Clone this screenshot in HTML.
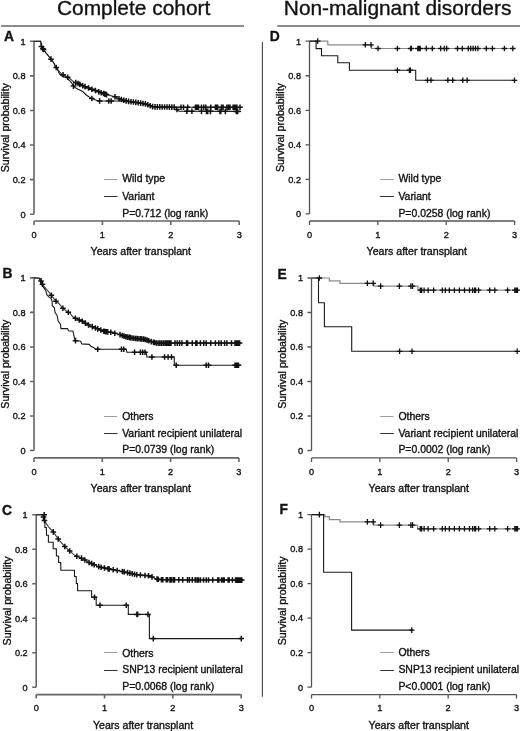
<!DOCTYPE html>
<html><head><meta charset="utf-8"><style>
html,body{margin:0;padding:0;background:#fff;}
body{width:520px;height:731px;overflow:hidden;}
svg{display:block;}
svg text{font-family:"Liberation Sans", sans-serif;stroke:#111;stroke-width:0.35px;paint-order:stroke;}
svg{will-change:transform;}
</style></head><body>
<svg width="520" height="731" viewBox="0 0 520 731">
<rect width="520" height="731" fill="#fff"/>
<text x="57" y="14.9" font-size="20.9" fill="#111">Complete cohort</text>
<text x="283.8" y="14.9" font-size="20.9" fill="#111">Non-malignant disorders</text>
<line x1="1" y1="26" x2="244" y2="26" stroke="#666" stroke-width="1.3"/>
<line x1="277.3" y1="26" x2="520" y2="26" stroke="#666" stroke-width="1.3"/>
<line x1="262.4" y1="42" x2="262.4" y2="696.8" stroke="#444" stroke-width="1.1"/>
<path fill="none" stroke="#666" stroke-width="1.6" d="M34 41.3V214.2
M30 41.3H34M30 75.88H34M30 110.46H34M30 145.04H34M30 179.62H34M30 214.2H34"/>
<path fill="none" stroke="#666" stroke-width="1.6" d="M34 221H239.2M34 221V225M102.4 221V225M170.8 221V225M239.2 221V225"/>
<text x="25.5" y="44.6" font-size="9.2" text-anchor="end" font-weight="normal" fill="#111">1</text>
<text x="25.5" y="79.18" font-size="9.2" text-anchor="end" font-weight="normal" fill="#111">0.8</text>
<text x="25.5" y="113.76" font-size="9.2" text-anchor="end" font-weight="normal" fill="#111">0.6</text>
<text x="25.5" y="148.34" font-size="9.2" text-anchor="end" font-weight="normal" fill="#111">0.4</text>
<text x="25.5" y="182.92" font-size="9.2" text-anchor="end" font-weight="normal" fill="#111">0.2</text>
<text x="25.5" y="217.5" font-size="9.2" text-anchor="end" font-weight="normal" fill="#111">0</text>
<text x="34" y="237.8" font-size="9.2" text-anchor="middle" font-weight="normal" fill="#111">0</text>
<text x="102.4" y="237.8" font-size="9.2" text-anchor="middle" font-weight="normal" fill="#111">1</text>
<text x="170.8" y="237.8" font-size="9.2" text-anchor="middle" font-weight="normal" fill="#111">2</text>
<text x="239.2" y="237.8" font-size="9.2" text-anchor="middle" font-weight="normal" fill="#111">3</text>
<text x="0" y="0" font-size="10.6" text-anchor="middle" fill="#111" transform="translate(8.5 127.75) rotate(-90)">Survival probability</text>
<text x="90.6" y="255.2" font-size="10.6" text-anchor="start" font-weight="normal" fill="#111">Years after transplant</text>
<text x="4" y="40.7" font-size="13.8" text-anchor="start" font-weight="bold" fill="#111">A</text>
<line x1="104" y1="179.5" x2="117.2" y2="179.5" stroke="#9c9c9c" stroke-width="1"/>
<line x1="104" y1="196.5" x2="117.6" y2="196.5" stroke="#333" stroke-width="1"/>
<text x="122.2" y="182.4" font-size="10.45" text-anchor="start" font-weight="normal" fill="#111">Wild type</text>
<text x="122.2" y="199.9" font-size="10.45" text-anchor="start" font-weight="normal" fill="#111">Variant</text>
<text x="122.2" y="216.7" font-size="10.45" text-anchor="start" font-weight="normal" fill="#111">P=0.712 (log rank)</text>
<polyline fill="none" stroke="#3a3a3a" stroke-width="1.1" stroke-linejoin="miter" points="33.8,41.3 40.6,41.3 41.2,44 41.3,46 42.5,48.4 44,50 46,53 48.5,56 50.5,58.5 52,60.5 54,63.2 55.2,66.2 57,68.5 59.6,71.9 61.9,74.2 66.5,76.5 70,78.8 73.5,81.7 78.1,83.5 82.7,85.8 87.3,87.5 91.9,89.2 96.5,91 101.2,92.7 105.8,94.4 110.4,95.6 115,96.7 120,99.2 128,101.3 140,103 146,104 150,105.6 153,106.8 176,107.2 241,107.3"/>
<polyline fill="none" stroke="#1a1a1a" stroke-width="1.1" stroke-linejoin="miter" points="33.8,41.3 40.6,41.3 41.2,44 41.3,46 42.5,48.4 44,50 46,53 48.5,56 50.5,58.5 52,60.5 54,63.2 55.2,66.2 57,68.5 59.6,74.2 61.9,76 66.5,77.7 71.2,82.3 74,86.9 78.1,89.2 82.7,91.5 86.2,95 89.6,97.3 94.2,99.6 97.7,100.8 101.2,101 118,101 128,101.5 140,103.1 146,104.1 150,105.8 153,107 176,107.4 177,109.6 179,111.3 241,111.4"/>
<path fill="none" stroke="#111" stroke-width="1.5" d="M41.5 43.6V49.2M38.7 46.4H44.3M42.9 46.03V51.63M40.1 48.83H45.7M43.5 46.67V52.27M40.7 49.47H46.3M51 56.37V61.97M48.2 59.17H53.8M56.2 64.68V70.28M53.4 67.48H59M63.1 72V77.6M60.3 74.8H65.9M67.7 74.49V80.09M64.9 77.29H70.5M75.8 79.8V85.4M73 82.6H78.6M78.1 80.7V86.3M75.3 83.5H80.9M79.8 81.55V87.15M77 84.35H82.6M82.7 83V88.6M79.9 85.8H85.5M85 83.85V89.45M82.2 86.65H87.8M88.5 85.14V90.74M85.7 87.94H91.3M91.9 86.4V92M89.1 89.2H94.7M95.4 87.77V93.37M92.6 90.57H98.2M98.8 89.03V94.63M96 91.83H101.6M101.2 89.9V95.5M98.4 92.7H104M103.5 90.75V96.35M100.7 93.55H106.3M105 91.3V96.9M102.2 94.1H107.8M106.5 91.78V97.38M103.7 94.58H109.3M115 93.9V99.5M112.2 96.7H117.8M119 95.9V101.5M116.2 98.7H121.8M121.4 96.77V102.37M118.6 99.57H124.2M123.8 97.4V103M121 100.2H126.6M126.2 98.03V103.63M123.4 100.83H129M128.6 98.58V104.18M125.8 101.38H131.4M131 98.92V104.52M128.2 101.72H133.8M133.4 99.27V104.86M130.6 102.06H136.2M135.8 99.61V105.2M133 102.41H138.6M138.2 99.95V105.55M135.4 102.75H141M140.6 100.3V105.9M137.8 103.1H143.4M143 100.7V106.3M140.2 103.5H145.8M145.4 101.1V106.7M142.6 103.9H148.2M147.8 101.92V107.52M145 104.72H150.6M150.2 102.88V108.48M147.4 105.68H153M152.6 103.84V109.44M149.8 106.64H155.4M155 104.03V109.63M152.2 106.83H157.8M157.4 104.08V109.68M154.6 106.88H160.2M159.8 104.12V109.72M157 106.92H162.6M162.2 104.16V109.76M159.4 106.96H165M164.6 104.2V109.8M161.8 107H167.4M167 104.24V109.84M164.2 107.04H169.8M169.4 104.29V109.89M166.6 107.09H172.2M171.8 104.33V109.93M169 107.13H174.6M174.2 104.37V109.97M171.4 107.17H177M181 104.41V110.01M178.2 107.21H183.8M183.5 104.41V110.01M180.7 107.21H186.3M187.7 104.42V110.02M184.9 107.22H190.5M195.4 104.43V110.03M192.6 107.23H198.2M196.4 104.43V110.03M193.6 107.23H199.2M197.4 104.43V110.03M194.6 107.23H200.2M198.5 104.43V110.03M195.7 107.23H201.3M201.5 104.44V110.04M198.7 107.24H204.3M203.8 104.44V110.04M201 107.24H206.6M205.8 104.45V110.05M203 107.25H208.6M210.8 104.45V110.05M208 107.25H213.6M215.4 104.46V110.06M212.6 107.26H218.2M216.5 104.46V110.06M213.7 107.26H219.3M217.7 104.46V110.06M214.9 107.26H220.5M221.5 104.47V110.07M218.7 107.27H224.3M223.1 104.47V110.07M220.3 107.27H225.9M226.9 104.48V110.08M224.1 107.28H229.7M228.5 104.48V110.08M225.7 107.28H231.3M230 104.48V110.08M227.2 107.28H232.8M233.1 104.49V110.09M230.3 107.29H235.9M234.2 104.49V110.09M231.4 107.29H237M235.4 104.49V110.09M232.6 107.29H238.2M236.9 104.49V110.09M234.1 107.29H239.7M240 104.5V110.1M237.2 107.3H242.8"/>
<path fill="none" stroke="#111" stroke-width="1.5" d="M73.5 83.28V88.88M70.7 86.08H76.3M91.9 95.65V101.25M89.1 98.45H94.7M99.6 98.11V103.71M96.8 100.91H102.4M108.8 98.2V103.8M106 101H111.6M111.2 98.2V103.8M108.4 101H114M176.9 106.58V112.18M174.1 109.38H179.7M186.9 108.51V114.11M184.1 111.31H189.7M191.9 108.52V114.12M189.1 111.32H194.7M201.5 108.54V114.14M198.7 111.34H204.3M206.5 108.54V114.14M203.7 111.34H209.3M207.7 108.55V114.15M204.9 111.35H210.5M210.4 108.55V114.15M207.6 111.35H213.2M220 108.57V114.17M217.2 111.37H222.8M220.8 108.57V114.17M218 111.37H223.6M225.4 108.57V114.17M222.6 111.37H228.2M236.2 108.59V114.19M233.4 111.39H239M237.7 108.59V114.19M234.9 111.39H240.5"/>
<path fill="none" stroke="#666" stroke-width="1.6" d="M34 277.9V450.5
M30 277.9H34M30 312.42H34M30 346.94H34M30 381.46H34M30 415.98H34M30 450.5H34"/>
<path fill="none" stroke="#666" stroke-width="1.6" d="M34 457.9H238.9M34 457.9V461.9M102.3 457.9V461.9M170.6 457.9V461.9M238.9 457.9V461.9"/>
<text x="25.5" y="281.2" font-size="9.2" text-anchor="end" font-weight="normal" fill="#111">1</text>
<text x="25.5" y="315.72" font-size="9.2" text-anchor="end" font-weight="normal" fill="#111">0.8</text>
<text x="25.5" y="350.24" font-size="9.2" text-anchor="end" font-weight="normal" fill="#111">0.6</text>
<text x="25.5" y="384.76" font-size="9.2" text-anchor="end" font-weight="normal" fill="#111">0.4</text>
<text x="25.5" y="419.28" font-size="9.2" text-anchor="end" font-weight="normal" fill="#111">0.2</text>
<text x="25.5" y="453.8" font-size="9.2" text-anchor="end" font-weight="normal" fill="#111">0</text>
<text x="34" y="474.7" font-size="9.2" text-anchor="middle" font-weight="normal" fill="#111">0</text>
<text x="102.3" y="474.7" font-size="9.2" text-anchor="middle" font-weight="normal" fill="#111">1</text>
<text x="170.6" y="474.7" font-size="9.2" text-anchor="middle" font-weight="normal" fill="#111">2</text>
<text x="238.9" y="474.7" font-size="9.2" text-anchor="middle" font-weight="normal" fill="#111">3</text>
<text x="0" y="0" font-size="10.6" text-anchor="middle" fill="#111" transform="translate(8.5 364.2) rotate(-90)">Survival probability</text>
<text x="90.6" y="492.1" font-size="10.6" text-anchor="start" font-weight="normal" fill="#111">Years after transplant</text>
<text x="2.6" y="278.3" font-size="13.8" text-anchor="start" font-weight="bold" fill="#111">B</text>
<line x1="104" y1="416.5" x2="117.2" y2="416.5" stroke="#9c9c9c" stroke-width="1"/>
<line x1="104" y1="433.5" x2="117.6" y2="433.5" stroke="#333" stroke-width="1"/>
<text x="122.2" y="419.7" font-size="10.45" text-anchor="start" font-weight="normal" fill="#111">Others</text>
<text x="122.2" y="436.5" font-size="10.45" text-anchor="start" font-weight="normal" fill="#111">Variant recipient unilateral</text>
<text x="122.2" y="453.3" font-size="10.45" text-anchor="start" font-weight="normal" fill="#111">P=0.0739 (log rank)</text>
<polyline fill="none" stroke="#3a3a3a" stroke-width="1.1" stroke-linejoin="miter" points="33.8,277.8 39.8,278.2 42.9,285.2 46.8,289.5 51.4,295.2 55.2,300.6 59.1,303.7 62.9,308.3 66.8,311.4 70,313.2 72.5,316.5 76.3,318.8 81.8,321 89.2,325.4 98.5,329.2 104.6,331.5 110.8,332.3 120,334.6 126.2,336.9 135.4,338.5 144.6,339.2 150.8,341.5 156.9,343.1 240.8,343.1"/>
<polyline fill="none" stroke="#1a1a1a" stroke-width="1.1" stroke-linejoin="miter" points="33.8,277.8 39.1,278.3 42.4,285.9 45.7,290.3 46.8,294.7 48.9,296.9 51.1,298.5 52.2,301.3 52.2,305.6 54.4,307.8 55,312.2 57.1,315.5 58.2,321 60.4,324.2 61,328.6 67.5,328.6 68.6,330.8 73,331.3 74.1,336.3 75.2,340.6 80.7,341.2 81.8,343.9 89.2,344.4 90.8,346.2 93.8,347.7 95.4,349.2 126.2,349.2 126.9,352.3 146.2,352.3 146.9,357 174.3,357 174.3,365.2 240.8,365.2"/>
<path fill="none" stroke="#111" stroke-width="1.5" d="M41 278.11V283.71M38.2 280.91H43.8M42.5 281.5V287.1M39.7 284.3H45.3M51.4 292.4V298M48.6 295.2H54.2M56 298.44V304.04M53.2 301.24H58.8M62.9 305.5V311.1M60.1 308.3H65.7M68.3 309.44V315.04M65.5 312.24H71.1M75.4 315.46V321.06M72.6 318.26H78.2M79.2 317.16V322.76M76.4 319.96H82M82.3 318.5V324.1M79.5 321.3H85.1M85.4 320.34V325.94M82.6 323.14H88.2M88.5 322.18V327.78M85.7 324.98H91.3M92.3 323.87V329.47M89.5 326.67H95.1M95.4 325.13V330.73M92.6 327.93H98.2M97.7 326.07V331.67M94.9 328.87H100.5M100.8 327.27V332.87M98 330.07H103.6M103.8 328.4V334M101 331.2H106.6M105 328.75V334.35M102.2 331.55H107.8M106.2 328.91V334.51M103.4 331.71H109M107.7 329.1V334.7M104.9 331.9H110.5M110.8 329.5V335.1M108 332.3H113.6M114.8 330.5V336.1M112 333.3H117.6M120 331.8V337.4M117.2 334.6H122.8M122.3 332.65V338.25M119.5 335.45H125.1M124 333.28V338.88M121.2 336.08H126.8M125.8 333.95V339.55M123 336.75H128.6M127.5 334.33V339.93M124.7 337.13H130.3M129.2 334.62V340.22M126.4 337.42H132M130.4 334.83V340.43M127.6 337.63H133.2M132.1 335.13V340.73M129.3 337.93H134.9M133.8 335.42V341.02M131 338.22H136.6M135.6 335.72V341.32M132.8 338.52H138.4M137.3 335.84V341.44M134.5 338.64H140.1M139 335.97V341.57M136.2 338.77H141.8M140.8 336.11V341.71M138 338.91H143.6M141.9 336.19V341.79M139.1 338.99H144.7M143.7 336.33V341.93M140.9 339.13H146.5M145.4 336.7V342.3M142.6 339.5H148.2M147.1 337.33V342.93M144.3 340.13H149.9M148.8 337.96V343.56M146 340.76H151.6M151.2 338.8V344.4M148.4 341.6H154M153.5 339.41V345.01M150.7 342.21H156.3M154.6 339.7V345.3M151.8 342.5H157.4M156.3 340.14V345.74M153.5 342.94H159.1M158.1 340.3V345.9M155.3 343.1H160.9M159.8 340.3V345.9M157 343.1H162.6M161.5 340.3V345.9M158.7 343.1H164.3M163.3 340.3V345.9M160.5 343.1H166.1M165 340.3V345.9M162.2 343.1H167.8M166.5 340.3V345.9M163.7 343.1H169.3M168 340.3V345.9M165.2 343.1H170.8M169.5 340.3V345.9M166.7 343.1H172.3M171 340.3V345.9M168.2 343.1H173.8M175 340.3V345.9M172.2 343.1H177.8M177.3 340.3V345.9M174.5 343.1H180.1M179.6 340.3V345.9M176.8 343.1H182.4M181.9 340.3V345.9M179.1 343.1H184.7M186.5 340.3V345.9M183.7 343.1H189.3M187.7 340.3V345.9M184.9 343.1H190.5M192.3 340.3V345.9M189.5 343.1H195.1M195.8 340.3V345.9M193 343.1H198.6M196.9 340.3V345.9M194.1 343.1H199.7M200.4 340.3V345.9M197.6 343.1H203.2M203.8 340.3V345.9M201 343.1H206.6M206.2 340.3V345.9M203.4 343.1H209M210.8 340.3V345.9M208 343.1H213.6M215.4 340.3V345.9M212.6 343.1H218.2M218.8 340.3V345.9M216 343.1H221.6M221.2 340.3V345.9M218.4 343.1H224M224.6 340.3V345.9M221.8 343.1H227.4M226.9 340.3V345.9M224.1 343.1H229.7M231.5 340.3V345.9M228.7 343.1H234.3M235 340.3V345.9M232.2 343.1H237.8M236.2 340.3V345.9M233.4 343.1H239M237.4 340.3V345.9M234.6 343.1H240.2M238.5 340.3V345.9M235.7 343.1H241.3M239.6 340.3V345.9M236.8 343.1H242.4"/>
<path fill="none" stroke="#111" stroke-width="1.5" d="M75.5 337.83V343.43M72.7 340.63H78.3M97.7 346.4V352M94.9 349.2H100.5M121.5 346.4V352M118.7 349.2H124.3M123.8 346.4V352M121 349.2H126.6M134.6 349.5V355.1M131.8 352.3H137.4M140.4 349.5V355.1M137.6 352.3H143.2M142.7 349.5V355.1M139.9 352.3H145.5M145 349.5V355.1M142.2 352.3H147.8M151.9 354.2V359.8M149.1 357H154.7M164.6 354.2V359.8M161.8 357H167.4M168.1 354.2V359.8M165.3 357H170.9M171.5 354.2V359.8M168.7 357H174.3M176.2 362.4V368M173.4 365.2H179M206.2 362.4V368M203.4 365.2H209M208.5 362.4V368M205.7 365.2H211.3M235 362.4V368M232.2 365.2H237.8M236.2 362.4V368M233.4 365.2H239M237.4 362.4V368M234.6 365.2H240.2M238.5 362.4V368M235.7 365.2H241.3"/>
<path fill="none" stroke="#666" stroke-width="1.6" d="M36.2 514.7V687.2
M32.2 514.7H36.2M32.2 549.2H36.2M32.2 583.7H36.2M32.2 618.2H36.2M32.2 652.7H36.2M32.2 687.2H36.2"/>
<path fill="none" stroke="#666" stroke-width="1.6" d="M36.2 694.6H241.2M36.2 694.6V698.6M104.53 694.6V698.6M172.87 694.6V698.6M241.2 694.6V698.6"/>
<text x="27.7" y="518" font-size="9.2" text-anchor="end" font-weight="normal" fill="#111">1</text>
<text x="27.7" y="552.5" font-size="9.2" text-anchor="end" font-weight="normal" fill="#111">0.8</text>
<text x="27.7" y="587" font-size="9.2" text-anchor="end" font-weight="normal" fill="#111">0.6</text>
<text x="27.7" y="621.5" font-size="9.2" text-anchor="end" font-weight="normal" fill="#111">0.4</text>
<text x="27.7" y="656" font-size="9.2" text-anchor="end" font-weight="normal" fill="#111">0.2</text>
<text x="27.7" y="690.5" font-size="9.2" text-anchor="end" font-weight="normal" fill="#111">0</text>
<text x="36.2" y="711.4" font-size="9.2" text-anchor="middle" font-weight="normal" fill="#111">0</text>
<text x="104.53" y="711.4" font-size="9.2" text-anchor="middle" font-weight="normal" fill="#111">1</text>
<text x="172.87" y="711.4" font-size="9.2" text-anchor="middle" font-weight="normal" fill="#111">2</text>
<text x="241.2" y="711.4" font-size="9.2" text-anchor="middle" font-weight="normal" fill="#111">3</text>
<text x="0" y="0" font-size="10.6" text-anchor="middle" fill="#111" transform="translate(10.7 600.95) rotate(-90)">Survival probability</text>
<text x="92.9" y="728.8" font-size="10.6" text-anchor="start" font-weight="normal" fill="#111">Years after transplant</text>
<text x="2.1" y="515.2" font-size="13.8" text-anchor="start" font-weight="bold" fill="#111">C</text>
<line x1="104" y1="652.5" x2="117.2" y2="652.5" stroke="#9c9c9c" stroke-width="1"/>
<line x1="104" y1="670.5" x2="117.6" y2="670.5" stroke="#333" stroke-width="1"/>
<text x="122.2" y="656.5" font-size="10.45" text-anchor="start" font-weight="normal" fill="#111">Others</text>
<text x="122.2" y="673.3" font-size="10.45" text-anchor="start" font-weight="normal" fill="#111">SNP13 recipient unilateral</text>
<text x="122.2" y="690.1" font-size="10.45" text-anchor="start" font-weight="normal" fill="#111">P=0.0068 (log rank)</text>
<polyline fill="none" stroke="#3a3a3a" stroke-width="1.1" stroke-linejoin="miter" points="36.2,514.8 42.9,514.8 44.6,520.9 48.9,527.5 53.3,531.9 58.2,539 61.5,542.8 65.4,547.2 69.7,551 74.1,554.9 78.5,557 82.9,558.7 88,562 98.5,566.6 110,569.2 121.5,571.3 129.2,573 136.9,574.8 144.6,575.4 150,575.9 155.8,578.8 161.5,579.8 243.5,580.1"/>
<polyline fill="none" stroke="#1a1a1a" stroke-width="1.1" stroke-linejoin="miter" points="36.2,514.8 44.6,514.8 44.6,520.9 44.9,520.9 44.9,527.5 46.3,527.5 46.3,529.2 46.5,529.2 46.5,535.3 48.4,535.3 48.4,535.7 48.4,535.7 48.4,542.3 52.8,542.3 52.8,542.3 53.2,542.3 53.2,548.8 56.1,548.8 56.1,549.4 56.4,549.4 56.4,556 58.2,556 58.2,556.5 58.6,556.5 58.6,562.5 60.4,562.5 60.4,563.1 60.8,563.1 60.8,570.2 74.5,570.2 74.5,576.5 76.2,576.5 76.2,577.3 76.3,577.3 76.3,583.5 77.5,583.5 77.5,584.2 77.6,584.2 77.6,590.8 91.6,590.8 91.6,597.3 96.2,597.3 96.2,605.2 128.3,605.2 128.3,614.4 149.4,614.4 149.4,638.6 241.8,638.6"/>
<path fill="none" stroke="#111" stroke-width="1.5" d="M43.5 514.15V519.75M40.7 516.95H46.3M44.5 517.74V523.34M41.7 520.54H47.3M53.3 529.1V534.7M50.5 531.9H56.1M58.2 536.2V541.8M55.4 539H61M64.8 543.72V549.32M62 546.52H67.6M69.7 548.2V553.8M66.9 551H72.5M76.8 553.39V558.99M74 556.19H79.6M81.5 555.36V560.96M78.7 558.16H84.3M84.9 557.19V562.79M82.1 559.99H87.7M89 559.64V565.24M86.2 562.44H91.8M91.8 560.86V566.46M89 563.66H94.6M94.2 561.92V567.52M91.4 564.72H97M98.8 563.87V569.47M96 566.67H101.6M101.1 564.39V569.99M98.3 567.19H103.9M104.5 565.16V570.76M101.7 567.96H107.3M108 565.95V571.55M105.2 568.75H110.8M109.2 566.22V571.82M106.4 569.02H112M113.2 566.98V572.58M110.4 569.78H116M117.2 567.71V573.31M114.4 570.51H120M122.4 568.7V574.3M119.6 571.5H125.2M124.2 569.1V574.7M121.4 571.9H127M127.6 569.85V575.45M124.8 572.65H130.4M129.9 570.36V575.96M127.1 573.16H132.7M132.2 570.9V576.5M129.4 573.7H135M134.5 571.44V577.04M131.7 574.24H137.3M136.8 571.98V577.58M134 574.78H139.6M140.4 572.27V577.87M137.6 575.07H143.2M145 572.64V578.24M142.2 575.44H147.8M148.5 572.96V578.56M145.7 575.76H151.3M152 574.1V579.7M149.2 576.9H154.8M157 576.21V581.81M154.2 579.01H159.8M158.3 576.44V582.04M155.5 579.24H161.1M161.5 577V582.6M158.7 579.8H164.3M162.8 577V582.6M160 579.8H165.6M166.3 577.02V582.62M163.5 579.82H169.1M167.6 577.02V582.62M164.8 579.82H170.4M170 577.03V582.63M167.2 579.83H172.8M171.2 577.04V582.64M168.4 579.84H174M173.2 577.04V582.64M170.4 579.84H176M174.5 577.05V582.65M171.7 579.85H177.3M178.8 577.06V582.66M176 579.86H181.6M182.7 577.08V582.68M179.9 579.88H185.5M187.5 577.1V582.7M184.7 579.9H190.3M189.4 577.1V582.7M186.6 579.9H192.2M192.3 577.11V582.71M189.5 579.91H195.1M195.2 577.12V582.72M192.4 579.92H198M197 577.13V582.73M194.2 579.93H199.8M198.5 577.14V582.74M195.7 579.94H201.3M200.4 577.14V582.74M197.6 579.94H203.2M203.5 577.15V582.75M200.7 579.95H206.3M206.2 577.16V582.76M203.4 579.96H209M208.5 577.17V582.77M205.7 579.97H211.3M212.7 577.19V582.79M209.9 579.99H215.5M217.7 577.21V582.81M214.9 580.01H220.5M218.8 577.21V582.81M216 580.01H221.6M221.5 577.22V582.82M218.7 580.02H224.3M223.1 577.23V582.83M220.3 580.03H225.9M224.2 577.23V582.83M221.4 580.03H227M228.1 577.24V582.84M225.3 580.04H230.9M229.2 577.25V582.85M226.4 580.05H232M232.4 577.26V582.86M229.6 580.06H235.2M235.5 577.27V582.87M232.7 580.07H238.3M236.8 577.28V582.88M234 580.08H239.6M238.1 577.28V582.88M235.3 580.08H240.9M239.4 577.29V582.88M236.6 580.09H242.2M240.7 577.29V582.89M237.9 580.09H243.5M241.8 577.29V582.89M239 580.09H244.6"/>
<path fill="none" stroke="#111" stroke-width="1.5" d="M44.2 512V517.6M41.4 514.8H47M94.5 594.5V600.1M91.7 597.3H97.3M100 602.4V608M97.2 605.2H102.8M126.3 602.4V608M123.5 605.2H129.1M136.9 611.6V617.2M134.1 614.4H139.7M137.6 611.6V617.2M134.8 614.4H140.4M148 611.6V617.2M145.2 614.4H150.8M153.3 635.8V641.4M150.5 638.6H156.1M241.3 635.8V641.4M238.5 638.6H244.1"/>
<path fill="none" stroke="#555" stroke-width="1.3" d="M309.5 41.2V213.9
M305.5 41.2H309.5M305.5 75.74H309.5M305.5 110.28H309.5M305.5 144.82H309.5M305.5 179.36H309.5M305.5 213.9H309.5"/>
<path fill="none" stroke="#555" stroke-width="1.3" d="M309.5 221H514.6M309.5 221V225M377.87 221V225M446.23 221V225M514.6 221V225"/>
<text x="301" y="44.5" font-size="9.2" text-anchor="end" font-weight="normal" fill="#111">1</text>
<text x="301" y="79.04" font-size="9.2" text-anchor="end" font-weight="normal" fill="#111">0.8</text>
<text x="301" y="113.58" font-size="9.2" text-anchor="end" font-weight="normal" fill="#111">0.6</text>
<text x="301" y="148.12" font-size="9.2" text-anchor="end" font-weight="normal" fill="#111">0.4</text>
<text x="301" y="182.66" font-size="9.2" text-anchor="end" font-weight="normal" fill="#111">0.2</text>
<text x="301" y="217.2" font-size="9.2" text-anchor="end" font-weight="normal" fill="#111">0</text>
<text x="309.5" y="237.8" font-size="9.2" text-anchor="middle" font-weight="normal" fill="#111">0</text>
<text x="377.87" y="237.8" font-size="9.2" text-anchor="middle" font-weight="normal" fill="#111">1</text>
<text x="446.23" y="237.8" font-size="9.2" text-anchor="middle" font-weight="normal" fill="#111">2</text>
<text x="514.6" y="237.8" font-size="9.2" text-anchor="middle" font-weight="normal" fill="#111">3</text>
<text x="0" y="0" font-size="10.6" text-anchor="middle" fill="#111" transform="translate(284 127.55) rotate(-90)">Survival probability</text>
<text x="366.6" y="255.2" font-size="10.6" text-anchor="start" font-weight="normal" fill="#111">Years after transplant</text>
<text x="269.8" y="41.2" font-size="13.8" text-anchor="start" font-weight="bold" fill="#111">D</text>
<line x1="380.2" y1="179.5" x2="393.4" y2="179.5" stroke="#9c9c9c" stroke-width="1"/>
<line x1="380.2" y1="196.5" x2="393.8" y2="196.5" stroke="#333" stroke-width="1"/>
<text x="398.4" y="182.3" font-size="10.45" text-anchor="start" font-weight="normal" fill="#111">Wild type</text>
<text x="398.4" y="199.8" font-size="10.45" text-anchor="start" font-weight="normal" fill="#111">Variant</text>
<text x="398.4" y="216.6" font-size="10.45" text-anchor="start" font-weight="normal" fill="#111">P=0.0258 (log rank)</text>
<polyline fill="none" stroke="#8a8a8a" stroke-width="1.2" stroke-linejoin="miter" points="309.5,41.1 327.8,41.1 327.8,44.8 371.6,44.8 371.6,48.5 514.2,48.5"/>
<polyline fill="none" stroke="#1a1a1a" stroke-width="1.1" stroke-linejoin="miter" points="309.5,41.1 316.1,41.1 316.1,48.6 321.5,48.6 321.5,55.8 337.8,55.8 337.8,62.8 349.4,62.8 349.4,70.2 415.7,70.2 415.7,80.3 514.2,80.3"/>
<path fill="none" stroke="#111" stroke-width="1.3" d="M317.7 38.3V43.9M314.9 41.1H320.5M365.3 42V47.6M362.5 44.8H368.1M371 42V47.6M368.2 44.8H373.8M378 45.7V51.3M375.2 48.5H380.8M397.4 45.7V51.3M394.6 48.5H400.2M410.6 45.7V51.3M407.8 48.5H413.4M411.3 45.7V51.3M408.5 48.5H414.1M417.8 45.7V51.3M415 48.5H420.6M419 45.7V51.3M416.2 48.5H421.8M420.2 45.7V51.3M417.4 48.5H423M426.3 45.7V51.3M423.5 48.5H429.1M432.3 45.7V51.3M429.5 48.5H435.1M440.7 45.7V51.3M437.9 48.5H443.5M444.3 45.7V51.3M441.5 48.5H447.1M446.7 45.7V51.3M443.9 48.5H449.5M457.5 45.7V51.3M454.7 48.5H460.3M462.3 45.7V51.3M459.5 48.5H465.1M468.3 45.7V51.3M465.5 48.5H471.1M470.7 45.7V51.3M467.9 48.5H473.5M473.1 45.7V51.3M470.3 48.5H475.9M475.5 45.7V51.3M472.7 48.5H478.3M477.9 45.7V51.3M475.1 48.5H480.7M486.3 45.7V51.3M483.5 48.5H489.1M492.4 45.7V51.3M489.6 48.5H495.2M504.4 45.7V51.3M501.6 48.5H507.2M512.8 45.7V51.3M510 48.5H515.6"/>
<path fill="none" stroke="#111" stroke-width="1.3" d="M397.4 67.4V73M394.6 70.2H400.2M409.4 67.4V73M406.6 70.2H412.2M410.4 67.4V73M407.6 70.2H413.2M427.5 77.5V83.1M424.7 80.3H430.3M431 77.5V83.1M428.2 80.3H433.8M447.9 77.5V83.1M445.1 80.3H450.7M452.7 77.5V83.1M449.9 80.3H455.5M462.8 77.5V83.1M460 80.3H465.6M467.1 77.5V83.1M464.3 80.3H469.9M514.5 77.5V83.1M511.7 80.3H517.3"/>
<path fill="none" stroke="#555" stroke-width="1.3" d="M311.5 278V450.5
M307.5 278H311.5M307.5 312.5H311.5M307.5 347H311.5M307.5 381.5H311.5M307.5 416H311.5M307.5 450.5H311.5"/>
<path fill="none" stroke="#555" stroke-width="1.3" d="M311.5 457.9H516.6M311.5 457.9V461.9M379.87 457.9V461.9M448.23 457.9V461.9M516.6 457.9V461.9"/>
<text x="303" y="281.3" font-size="9.2" text-anchor="end" font-weight="normal" fill="#111">1</text>
<text x="303" y="315.8" font-size="9.2" text-anchor="end" font-weight="normal" fill="#111">0.8</text>
<text x="303" y="350.3" font-size="9.2" text-anchor="end" font-weight="normal" fill="#111">0.6</text>
<text x="303" y="384.8" font-size="9.2" text-anchor="end" font-weight="normal" fill="#111">0.4</text>
<text x="303" y="419.3" font-size="9.2" text-anchor="end" font-weight="normal" fill="#111">0.2</text>
<text x="303" y="453.8" font-size="9.2" text-anchor="end" font-weight="normal" fill="#111">0</text>
<text x="311.5" y="474.7" font-size="9.2" text-anchor="middle" font-weight="normal" fill="#111">0</text>
<text x="379.87" y="474.7" font-size="9.2" text-anchor="middle" font-weight="normal" fill="#111">1</text>
<text x="448.23" y="474.7" font-size="9.2" text-anchor="middle" font-weight="normal" fill="#111">2</text>
<text x="516.6" y="474.7" font-size="9.2" text-anchor="middle" font-weight="normal" fill="#111">3</text>
<text x="0" y="0" font-size="10.6" text-anchor="middle" fill="#111" transform="translate(286 364.25) rotate(-90)">Survival probability</text>
<text x="368.6" y="492.1" font-size="10.6" text-anchor="start" font-weight="normal" fill="#111">Years after transplant</text>
<text x="277.5" y="278.5" font-size="13.8" text-anchor="start" font-weight="bold" fill="#111">E</text>
<line x1="380.2" y1="416.5" x2="393.4" y2="416.5" stroke="#9c9c9c" stroke-width="1"/>
<line x1="380.2" y1="433.5" x2="393.8" y2="433.5" stroke="#333" stroke-width="1"/>
<text x="398.4" y="419.8" font-size="10.45" text-anchor="start" font-weight="normal" fill="#111">Others</text>
<text x="398.4" y="436.6" font-size="10.45" text-anchor="start" font-weight="normal" fill="#111">Variant recipient unilateral</text>
<text x="398.4" y="453.4" font-size="10.45" text-anchor="start" font-weight="normal" fill="#111">P=0.0002 (log rank)</text>
<polyline fill="none" stroke="#8a8a8a" stroke-width="1.2" stroke-linejoin="miter" points="311.5,278 329.3,278 329.3,280.8 339.9,280.8 339.9,283.3 373.8,283.3 373.8,286.1 418,286.1 418,290.2 518.2,290.2"/>
<polyline fill="none" stroke="#1a1a1a" stroke-width="1.1" stroke-linejoin="miter" points="311.5,278 318.5,278 318.5,302.8 324.4,302.8 324.4,326.7 351.7,326.7 351.7,351.3 518.2,351.3"/>
<path fill="none" stroke="#111" stroke-width="1.3" d="M319.4 275.2V280.8M316.6 278H322.2M367.4 280.5V286.1M364.6 283.3H370.2M373.2 280.5V286.1M370.4 283.3H376M380.6 283.3V288.9M377.8 286.1H383.4M399.4 283.3V288.9M396.6 286.1H402.2M410.9 283.3V288.9M408.1 286.1H413.7M412.6 283.3V288.9M409.8 286.1H415.4M420.3 287.4V293M417.5 290.2H423.1M421.6 287.4V293M418.8 290.2H424.4M424.1 287.4V293M421.3 290.2H426.9M428.1 287.4V293M425.3 290.2H430.9M433.6 287.4V293M430.8 290.2H436.4M442.3 287.4V293M439.5 290.2H445.1M445.3 287.4V293M442.5 290.2H448.1M449.3 287.4V293M446.5 290.2H452.1M454.4 287.4V293M451.6 290.2H457.2M459.4 287.4V293M456.6 290.2H462.2M464.5 287.4V293M461.7 290.2H467.3M469.5 287.4V293M466.7 290.2H472.3M472.6 287.4V293M469.8 290.2H475.4M474.6 287.4V293M471.8 290.2H477.4M475.6 287.4V293M472.8 290.2H478.4M478.6 287.4V293M475.8 290.2H481.4M489.7 287.4V293M486.9 290.2H492.5M494.8 287.4V293M492 290.2H497.6M507.6 287.4V293M504.8 290.2H510.4M514.8 287.4V293M512 290.2H517.6M516.2 287.4V293M513.4 290.2H519M517.5 287.4V293M514.7 290.2H520.3"/>
<path fill="none" stroke="#111" stroke-width="1.3" d="M399.6 348.5V354.1M396.8 351.3H402.4M412 348.5V354.1M409.2 351.3H414.8M517.2 348.5V354.1M514.4 351.3H520"/>
<path fill="none" stroke="#555" stroke-width="1.3" d="M311.5 514.6V687.2
M307.5 514.6H311.5M307.5 549.12H311.5M307.5 583.64H311.5M307.5 618.16H311.5M307.5 652.68H311.5M307.5 687.2H311.5"/>
<path fill="none" stroke="#555" stroke-width="1.3" d="M311.5 694.6H516.5M311.5 694.6V698.6M379.83 694.6V698.6M448.17 694.6V698.6M516.5 694.6V698.6"/>
<text x="303" y="517.9" font-size="9.2" text-anchor="end" font-weight="normal" fill="#111">1</text>
<text x="303" y="552.42" font-size="9.2" text-anchor="end" font-weight="normal" fill="#111">0.8</text>
<text x="303" y="586.94" font-size="9.2" text-anchor="end" font-weight="normal" fill="#111">0.6</text>
<text x="303" y="621.46" font-size="9.2" text-anchor="end" font-weight="normal" fill="#111">0.4</text>
<text x="303" y="655.98" font-size="9.2" text-anchor="end" font-weight="normal" fill="#111">0.2</text>
<text x="303" y="690.5" font-size="9.2" text-anchor="end" font-weight="normal" fill="#111">0</text>
<text x="311.5" y="711.4" font-size="9.2" text-anchor="middle" font-weight="normal" fill="#111">0</text>
<text x="379.83" y="711.4" font-size="9.2" text-anchor="middle" font-weight="normal" fill="#111">1</text>
<text x="448.17" y="711.4" font-size="9.2" text-anchor="middle" font-weight="normal" fill="#111">2</text>
<text x="516.5" y="711.4" font-size="9.2" text-anchor="middle" font-weight="normal" fill="#111">3</text>
<text x="0" y="0" font-size="10.6" text-anchor="middle" fill="#111" transform="translate(286 600.9) rotate(-90)">Survival probability</text>
<text x="368.6" y="728.8" font-size="10.6" text-anchor="start" font-weight="normal" fill="#111">Years after transplant</text>
<text x="279.5" y="513.8" font-size="13.8" text-anchor="start" font-weight="bold" fill="#111">F</text>
<line x1="380.2" y1="652.5" x2="393.4" y2="652.5" stroke="#9c9c9c" stroke-width="1"/>
<line x1="380.2" y1="670.5" x2="393.8" y2="670.5" stroke="#333" stroke-width="1"/>
<text x="398.4" y="656.4" font-size="10.45" text-anchor="start" font-weight="normal" fill="#111">Others</text>
<text x="398.4" y="673.2" font-size="10.45" text-anchor="start" font-weight="normal" fill="#111">SNP13 recipient unilateral</text>
<text x="398.4" y="690" font-size="10.45" text-anchor="start" font-weight="normal" fill="#111">P&lt;0.0001 (log rank)</text>
<polyline fill="none" stroke="#8a8a8a" stroke-width="1.2" stroke-linejoin="miter" points="311.5,514.6 324.8,514.6 324.8,516.6 329.3,516.6 329.3,519.6 340,519.6 340,521.9 373.8,521.9 373.8,525.1 417.6,525.1 417.6,528.8 518.9,528.8"/>
<polyline fill="none" stroke="#1a1a1a" stroke-width="1.1" stroke-linejoin="miter" points="311.5,514.6 323.6,514.6 323.6,572.3 351.6,572.3 351.6,630.1 412.9,630.1"/>
<path fill="none" stroke="#111" stroke-width="1.3" d="M319.4 511.8V517.4M316.6 514.6H322.2M367.4 519.1V524.7M364.6 521.9H370.2M373.2 519.1V524.7M370.4 521.9H376M380.6 522.3V527.9M377.8 525.1H383.4M399.4 522.3V527.9M396.6 525.1H402.2M410.9 522.3V527.9M408.1 525.1H413.7M412.6 522.3V527.9M409.8 525.1H415.4M420.3 526V531.6M417.5 528.8H423.1M421.6 526V531.6M418.8 528.8H424.4M424.1 526V531.6M421.3 528.8H426.9M428.1 526V531.6M425.3 528.8H430.9M433.6 526V531.6M430.8 528.8H436.4M442.3 526V531.6M439.5 528.8H445.1M445.3 526V531.6M442.5 528.8H448.1M449.3 526V531.6M446.5 528.8H452.1M454.4 526V531.6M451.6 528.8H457.2M459.4 526V531.6M456.6 528.8H462.2M464.5 526V531.6M461.7 528.8H467.3M469.5 526V531.6M466.7 528.8H472.3M472.6 526V531.6M469.8 528.8H475.4M474.6 526V531.6M471.8 528.8H477.4M475.6 526V531.6M472.8 528.8H478.4M478.6 526V531.6M475.8 528.8H481.4M489.7 526V531.6M486.9 528.8H492.5M494.8 526V531.6M492 528.8H497.6M507.6 526V531.6M504.8 528.8H510.4M514.8 526V531.6M512 528.8H517.6M516.2 526V531.6M513.4 528.8H519M517.5 526V531.6M514.7 528.8H520.3"/>
<path fill="none" stroke="#111" stroke-width="1.3" d="M411.8 627.3V632.9M409 630.1H414.6"/>
</svg>
</body></html>
